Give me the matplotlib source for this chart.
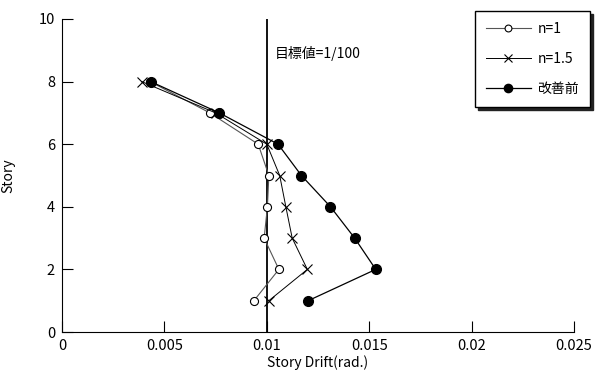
import matplotlib
matplotlib.use("Agg")
import matplotlib.pyplot as plt

plt.rcParams['font.family'] = ['Noto Sans CJK JP', 'DejaVu Sans']

stories = [1, 2, 3, 4, 5, 6, 7, 8]
drift_n1 = [0.00937, 0.01059, 0.00987, 0.01003, 0.0101, 0.00958, 0.00722, 0.0043]
drift_n15 = [0.0101, 0.01198, 0.01124, 0.01093, 0.01063, 0.01000, 0.0075, 0.00389]
drift_before = [0.01202, 0.01532, 0.01429, 0.01311, 0.01169, 0.01055, 0.00768, 0.00433]

target_drift = 0.01
x_ticks = [0, 0.005, 0.01, 0.015, 0.02, 0.025]
x_ticklabels = ['0', '0.005', '0.01', '0.015', '0.02', '0.025']
y_ticks = [0, 2, 4, 6, 8, 10]

fig = plt.figure(figsize=(5.95, 3.74), dpi=100)
ax = fig.add_axes([62/595, 1-332/374, (574-62)/595, (332-19)/374])

ax.plot(drift_n1, stories, color='#555555', lw=0.8, marker='o', ms=5.8,
        mfc='white', mec='black', mew=0.8, label='n=1')
ax.plot(drift_n15, stories, color='black', lw=0.7, marker='x', ms=6.5,
        mec='black', mew=0.8, label='n=1.5')
ax.plot(drift_before, stories, color='black', lw=0.9, marker='o', ms=7,
        mfc='black', mec='black', label='改善前')

ax.axvline(target_drift, color='black', lw=1.3, zorder=1)
ax.text(0.0104, 8.9, '目標値=1/100', fontsize=10, va='center', ha='left')

ax.set_xlim(0, 0.025)
ax.set_ylim(0, 10)
ax.set_xticks(x_ticks)
ax.set_xticklabels(x_ticklabels)
ax.set_yticks(y_ticks)
ax.tick_params(direction='in', length=8, width=0.8, labelsize=10.5, pad=5)
for side in ('top', 'right'):
    ax.spines[side].set_visible(False)
for side in ('left', 'bottom'):
    ax.spines[side].set_linewidth(0.8)

ax.set_xlabel('Story Drift(rad.)', fontsize=10, labelpad=2)
ax.set_ylabel('Story', fontsize=10, labelpad=17)

leg = ax.legend(loc='upper left', bbox_to_anchor=(468/595, 1-4/374),
                bbox_transform=fig.transFigure, frameon=True,
                shadow={'color': '#222222', 'alpha': 1.0},
                fancybox=False, fontsize=10, handlelength=3.2,
                labelspacing=1.15, borderpad=0.8, handletextpad=0.5,
                markerscale=0.85)
leg.get_frame().set_edgecolor('black')
leg.get_frame().set_linewidth(1.0)

fig.savefig('out.png', dpi=100)
